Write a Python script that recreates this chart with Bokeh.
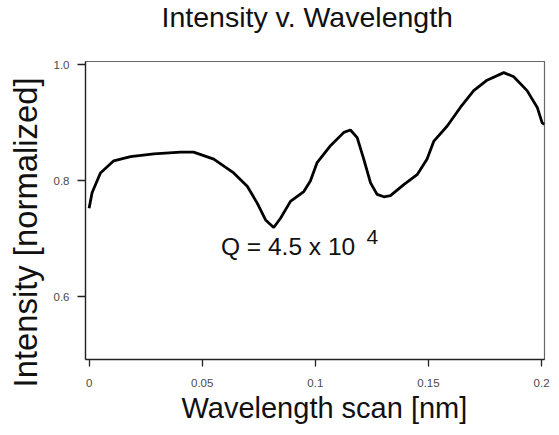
from bokeh.plotting import figure
from bokeh.models import FixedTicker, Label, Range1d, Title
from bokeh.embed import file_html
from bokeh.resources import INLINE

# ---- data ----
wavelength = [0.0, 0.0013, 0.005, 0.0109, 0.0183, 0.0286, 0.0404, 0.0462, 0.0551,
              0.0639, 0.0699, 0.0743, 0.078, 0.0816, 0.0846, 0.089, 0.0949, 0.0978,
              0.1008, 0.1067, 0.1126, 0.1155, 0.1185, 0.1214, 0.1244, 0.1273, 0.1303,
              0.1332, 0.1391, 0.145, 0.1494, 0.1524, 0.1583, 0.1641, 0.17, 0.1759,
              0.1833, 0.1877, 0.1936, 0.1981, 0.2003, 0.2013]
intensity = [0.752, 0.779, 0.813, 0.834, 0.841, 0.846, 0.849, 0.849, 0.837,
             0.813, 0.790, 0.761, 0.732, 0.719, 0.735, 0.764, 0.781, 0.799,
             0.831, 0.860, 0.883, 0.887, 0.874, 0.837, 0.796, 0.776, 0.772,
             0.774, 0.793, 0.810, 0.837, 0.868, 0.894, 0.926, 0.955, 0.973,
             0.986, 0.979, 0.955, 0.926, 0.899, 0.897]

x_ticks = [0, 0.05, 0.1, 0.15, 0.2]
x_tick_labels = ["0", "0.05", "0.1", "0.15", "0.2"]
y_ticks = [0.6, 0.8, 1.0]
y_tick_labels = ["0.6", "0.8", "1.0"]

title_text = "Intensity v. Wavelength"
x_label = "Wavelength scan [nm]"
y_label = "Intensity [normalized]"
q_text = "Q = 4.5 x 10"
q_exp = "4"

FONT = "Liberation Sans"
INK = "#111111"

p = figure(width=551, height=427, output_backend="svg", toolbar_location=None,
           x_range=Range1d(-0.0016, 0.2013), y_range=Range1d(0.4914, 1.0052),
           min_border_left=85, min_border_right=7, min_border_top=61, min_border_bottom=68)

# real title on top, spacer title between it and the frame
p.title.text = title_text
p.title.text_font = FONT
p.title.text_font_size = "28.5px"
p.title.text_font_style = "normal"
p.title.text_color = INK
p.title.align = "left"
p.title.offset = 76
p.title.vertical_align = "top"
p.title.standoff = 0

spacer = Title(text=" ", text_font=FONT, text_font_size="10px", standoff=14)
p.add_layout(spacer, "above")

p.line(wavelength, intensity, line_color="black", line_width=2.8)

p.xgrid.visible = False
p.ygrid.visible = False
p.outline_line_color = "#666666"
p.outline_line_width = 1.2

for ax in (p.xaxis[0], p.yaxis[0]):
    ax.axis_line_color = "#222222"
    ax.axis_line_width = 1.3
    ax.major_tick_line_color = "#222222"
    ax.major_tick_line_width = 1.3
    ax.minor_tick_line_color = None
    ax.major_tick_in = 0
    ax.major_label_text_font = FONT
    ax.major_label_text_font_size = "11.5px"
    ax.major_label_text_color = "#4a4a4a"

p.xaxis.ticker = FixedTicker(ticks=x_ticks)
p.xaxis.major_label_overrides = {t: l for t, l in zip(x_ticks, x_tick_labels)}
p.xaxis.major_tick_out = 7
p.xaxis.major_label_standoff = 12

p.yaxis.ticker = FixedTicker(ticks=y_ticks)
p.yaxis.major_label_overrides = {t: l for t, l in zip(y_ticks, y_tick_labels)}
p.yaxis.major_tick_out = 8
p.yaxis.major_label_standoff = 8

xtitle = Title(text=x_label, text_font=FONT, text_font_size="29px",
               text_font_style="normal", text_color=INK,
               align="left", offset=96, vertical_align="bottom", standoff=1)
p.add_layout(xtitle, "below")

ytitle = Title(text=y_label, text_font=FONT, text_font_size="32.8px",
               text_font_style="normal", text_color=INK,
               align="right", offset=16, vertical_align="top", standoff=9)
p.add_layout(ytitle, "left")

q_label = Label(x=0.0583, y=0.6857, text=q_text, text_font=FONT,
                text_font_size="24.5px", text_color=INK, text_baseline="alphabetic")
q_sup = Label(x=0.1226, y=0.7018, text=q_exp, text_font=FONT,
              text_font_size="21px", text_color=INK, text_baseline="alphabetic")
p.add_layout(q_label)
p.add_layout(q_sup)

open("out.html", "w").write(file_html(p, INLINE))
